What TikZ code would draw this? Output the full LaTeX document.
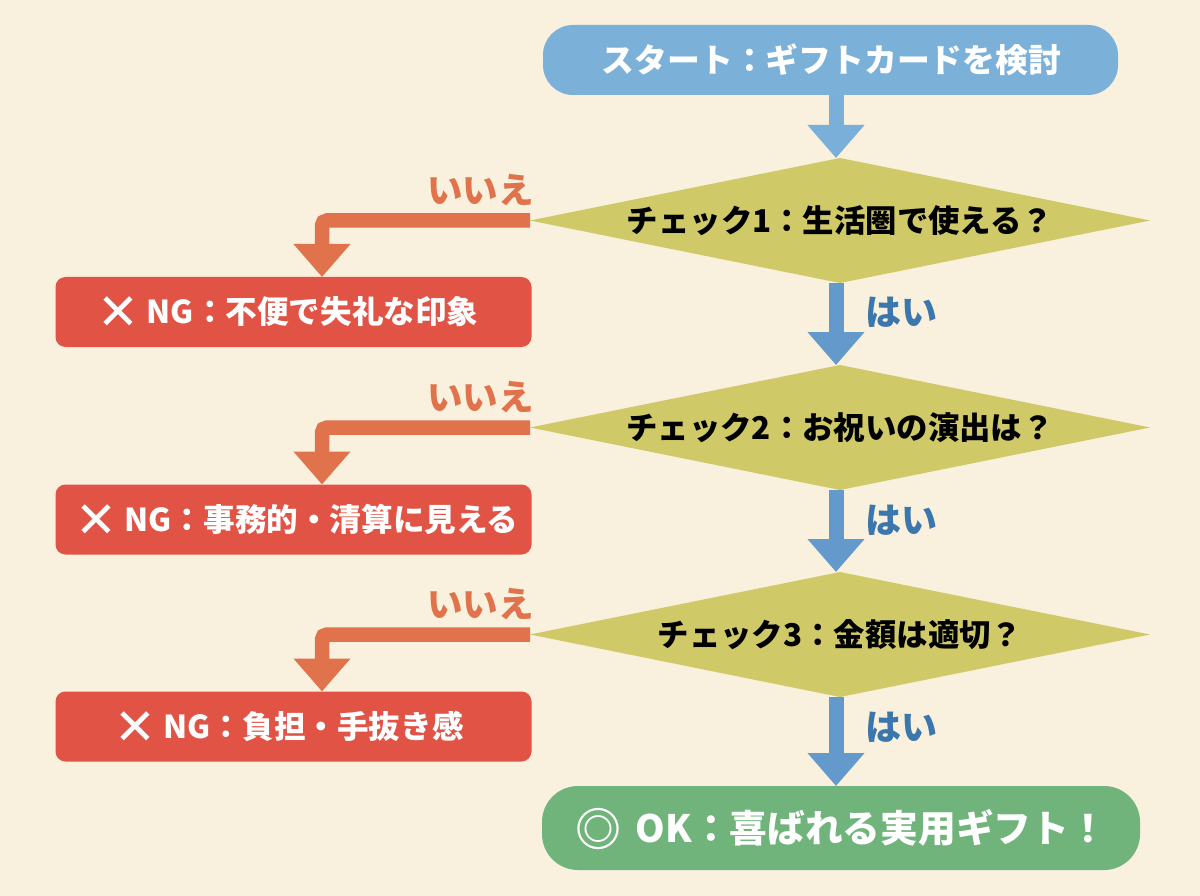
\documentclass[tikz,border=0pt]{standalone}
\usepackage{fontspec}
\setmainfont{Noto Sans CJK JP}
\newfontfamily\symb{DejaVu Sans}
\usetikzlibrary{shapes.geometric,arrows.meta}
\definecolor{pagebg}{HTML}{F9F0DE}
\definecolor{startblue}{HTML}{7BB1D9}
\definecolor{yesblue}{HTML}{6499CB}
\definecolor{yestext}{HTML}{3B76AD}
\definecolor{checkyellow}{HTML}{CFC968}
\definecolor{noorange}{HTML}{E0734B}
\definecolor{ngred}{HTML}{E05345}
\definecolor{okgreen}{HTML}{70B47C}
\newcommand{\crossmark}{\raisebox{-6pt}[0pt][0pt]{\symb\fontsize{50}{31}\selectfont ✕}}
\newcommand{\okmark}{\raisebox{-4pt}[0pt][0pt]{\fontsize{46}{37}\selectfont ◎}\hspace{6pt}}
\tikzset{
  pill/.style={rectangle, text=white, font=\bfseries\fontsize{32.8}{33}\selectfont, inner sep=0pt, outer sep=0pt},
  check/.style={diamond, fill=checkyellow, aspect=4.96, minimum width=620pt, minimum height=125pt, inner sep=0pt, outer sep=0pt, font=\bfseries\fontsize{31.4}{31}\selectfont},
  ngbox/.style={rectangle, fill=ngred, rounded corners=10pt, minimum width=476pt, minimum height=70pt, text=white, inner sep=0pt, outer sep=0pt, font=\bfseries\fontsize{31.6}{31}\selectfont},
  yesarrow/.style={line width=15pt, draw=yesblue, -{Triangle[length=33pt,width=55pt]}},
  noarrow/.style={line width=14.5pt, draw=noorange, rounded corners=5pt, -{Triangle[length=33pt,width=55pt]}},
  yeslabel/.style={text=yestext, inner sep=0pt, font=\bfseries\fontsize{36}{36}\selectfont},
  nolabel/.style={text=noorange, inner sep=0pt, anchor=east, font=\bfseries\fontsize{35.5}{36}\selectfont}
}
\begin{document}
\begin{tikzpicture}[x=1pt, y=-1pt]
\useasboundingbox (0,0) rectangle (1200,896);
\fill[pagebg] (0,0) rectangle (1200,896);
\coordinate (trunk) at (836,0);
% start
\node[pill, fill=startblue, rounded corners=30pt, minimum width=575pt, minimum height=70pt] (start) at (830.5,60) {\hspace*{2pt}スタート：ギフトカードを検討};
% checks
\foreach \n/\y/\q in {1/220.5/チェック1：生活圏で使える？, 2/427.5/チェック2：お祝いの演出は？, 3/634.5/チェック3：金額は適切？}
    \node[check] (d\n) at (840,\y) {\q};
% ng boxes
\foreach \n/\y/\q in {1/312/{\hspace*{-11pt}\crossmark{} NG：不便で失礼な印象}, 2/519.5/{\hspace*{7pt}\crossmark{} NG：事務的・清算に見える}, 3/726.5/{\hspace*{-9pt}\crossmark{} NG：負担・手抜き感}}
    \node[ngbox] (ng\n) at (293.5,\y) {\q};
% end
\node[pill, fill=okgreen, rounded corners=36pt, minimum width=598pt, minimum height=84pt, font=\bfseries\fontsize{37.7}{37}\selectfont] (end) at (841,828) {\okmark{} OK：喜ばれる実用ギフト！};
% yes arrows
\draw[yesarrow, draw=startblue!90!yesblue] (start.south -| trunk) -- (d1.north -| trunk);
\draw[yesarrow] (d1.south -| trunk) -- (d2.north -| trunk);
\draw[yesarrow] (d2.south -| trunk) -- (d3.north -| trunk);
\draw[yesarrow] (d3.south -| trunk) -- (end.north -| trunk);
% no arrows
\foreach \n in {1,2,3}
    \draw[noarrow] (d\n.west) -| ([xshift=28.5pt]ng\n.north);
% labels
\foreach \n/\y in {1/190,2/397,3/604}
    \node[nolabel] (no\n) at (534,\y) {いいえ};
\foreach \n/\y in {1/312,2/520,3/727}
    \node[yeslabel] (yes\n) at (901,\y) {はい};
\end{tikzpicture}
\end{document}
